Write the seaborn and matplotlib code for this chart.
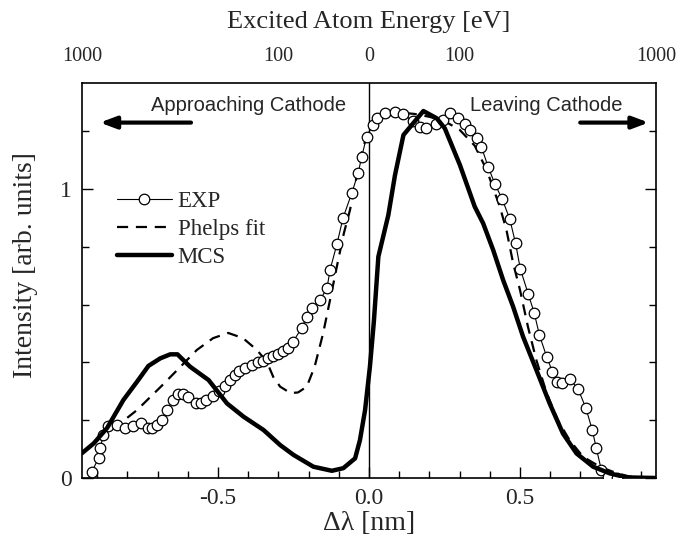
import numpy as np
import pandas as pd
import matplotlib
matplotlib.use("Agg")
import matplotlib.pyplot as plt
import seaborn as sns

# Experimental Doppler profile (open circles)
exp_dl = [-0.917, -0.895, -0.889, -0.880, -0.863, -0.834, -0.807, -0.780, -0.754, -0.730,
          -0.718, -0.702, -0.685, -0.668, -0.649, -0.632, -0.616, -0.598, -0.572, -0.556,
          -0.539, -0.517, -0.497, -0.476, -0.460, -0.443, -0.430, -0.410, -0.388, -0.367,
          -0.350, -0.333, -0.317, -0.300, -0.285, -0.268, -0.251, -0.223, -0.206, -0.190,
          -0.162, -0.139, -0.129, -0.106, -0.086, -0.057, -0.036, -0.024, -0.008, 0.012,
          0.025, 0.053, 0.086, 0.112, 0.146, 0.169, 0.190, 0.221, 0.245, 0.268,
          0.295, 0.317, 0.334, 0.356, 0.372, 0.395, 0.417, 0.441, 0.466, 0.485,
          0.501, 0.527, 0.547, 0.564, 0.588, 0.607, 0.623, 0.640, 0.664, 0.692,
          0.718, 0.739, 0.752, 0.769, 0.790, 0.820]
exp_int = [0.022, 0.070, 0.104, 0.149, 0.180, 0.183, 0.173, 0.180, 0.191, 0.173,
           0.173, 0.183, 0.200, 0.235, 0.270, 0.290, 0.290, 0.280, 0.260, 0.259,
           0.270, 0.285, 0.300, 0.320, 0.340, 0.356, 0.370, 0.380, 0.390, 0.400,
           0.405, 0.415, 0.422, 0.430, 0.440, 0.450, 0.472, 0.519, 0.558, 0.588,
           0.616, 0.657, 0.720, 0.810, 0.900, 0.986, 1.055, 1.112, 1.181, 1.221,
           1.245, 1.263, 1.267, 1.259, 1.235, 1.216, 1.210, 1.225, 1.239, 1.263,
           1.245, 1.225, 1.204, 1.176, 1.146, 1.075, 1.017, 0.965, 0.896, 0.813,
           0.723, 0.637, 0.571, 0.495, 0.420, 0.368, 0.333, 0.330, 0.343, 0.308,
           0.242, 0.166, 0.105, 0.028, 0.005, 0.000]

# Phelps model fit (dashed)
fit_dl = [-0.900, -0.860, -0.826, -0.768, -0.690, -0.625, -0.570, -0.516, -0.466, -0.417,
          -0.371, -0.338, -0.317, -0.294, -0.260, -0.235, -0.206, -0.180, -0.152, -0.129,
          -0.102, -0.083, -0.063, -0.041, -0.020, 0.003, 0.050, 0.100, 0.150, 0.200,
          0.250, 0.300, 0.350, 0.390, 0.433, 0.455, 0.477, 0.500, 0.526, 0.554,
          0.588, 0.625, 0.664, 0.708, 0.764, 0.819, 0.863, 0.950]
fit_int = [0.130, 0.165, 0.187, 0.235, 0.315, 0.384, 0.443, 0.484, 0.502, 0.484,
           0.443, 0.402, 0.350, 0.316, 0.294, 0.296, 0.316, 0.385, 0.500, 0.616,
           0.754, 0.848, 0.927, 1.043, 1.146, 1.204, 1.250, 1.265, 1.260, 1.250,
           1.235, 1.205, 1.150, 1.065, 0.939, 0.858, 0.744, 0.650, 0.524, 0.408,
           0.294, 0.200, 0.131, 0.074, 0.039, 0.017, 0.005, 0.000]

# Monte Carlo simulation (thick solid)
mcs_dl = [-0.950, -0.911, -0.867, -0.813, -0.768, -0.730, -0.691, -0.658, -0.634, -0.592,
          -0.531, -0.470, -0.415, -0.349, -0.294, -0.250, -0.184, -0.123, -0.085, -0.046,
          -0.030, -0.013, 0.003, 0.016, 0.031, 0.064, 0.086, 0.114, 0.180, 0.224,
          0.251, 0.301, 0.350, 0.378, 0.411, 0.444, 0.477, 0.510, 0.554, 0.598,
          0.642, 0.687, 0.742, 0.797, 0.852, 0.950]
mcs_int = [0.086, 0.120, 0.173, 0.270, 0.333, 0.388, 0.414, 0.428, 0.428, 0.385,
           0.339, 0.258, 0.212, 0.166, 0.114, 0.080, 0.039, 0.025, 0.034, 0.068,
           0.131, 0.235, 0.385, 0.540, 0.766, 0.910, 1.048, 1.187, 1.270, 1.245,
           1.210, 1.083, 0.939, 0.881, 0.789, 0.685, 0.593, 0.489, 0.374, 0.258,
           0.154, 0.085, 0.039, 0.016, 0.002, 0.000]

# Energy scale along the top: E = K * (delta lambda)^2, signed by direction
energy_labels = [1000, 100, 0, 100, 1000]
energy_side = [-1, -1, 0, 1, 1]
K_EV_PER_NM2 = 1000 / 0.95 ** 2

sns.set_theme(style="ticks")
plt.rcParams["font.family"] = ["Liberation Serif", "DejaVu Serif"]
plt.rcParams["mathtext.fontset"] = "stix"

fig = plt.figure(figsize=(6.77, 5.46), dpi=100)
ax = fig.add_axes([82 / 677, 68 / 546, 574 / 677, 395 / 546])

exp_df = pd.DataFrame({"dl": exp_dl, "I": exp_int})
fit_df = pd.DataFrame({"dl": fit_dl, "I": fit_int})
mcs_df = pd.DataFrame({"dl": mcs_dl, "I": mcs_int})

sns.lineplot(data=fit_df, x="dl", y="I", ax=ax, sort=False, estimator=None,
             color="black", lw=1.6, label="Phelps fit", zorder=3)
ax.lines[-1].set_dashes([5.0, 3.5])
sns.lineplot(data=exp_df, x="dl", y="I", ax=ax, sort=False, estimator=None,
             color="black", lw=0.8, marker="o", markersize=7.6,
             markerfacecolor="white", markeredgecolor="black", markeredgewidth=0.9,
             label="EXP", zorder=4)
sns.lineplot(data=mcs_df, x="dl", y="I", ax=ax, sort=False, estimator=None,
             color="black", lw=3.2, label="MCS", zorder=5)

ax.axvline(0, color="black", lw=1.0, zorder=2)

ax.set_xlim(-0.95, 0.95)
ax.set_ylim(0, 1.367)
ax.set_xticks([-0.5, 0.0, 0.5])
ax.set_xticklabels(["-0.5", "0.0", "0.5"])
ax.set_xticks(np.arange(-0.9, 0.95, 0.1), minor=True)
ax.set_yticks([0, 1])
ax.set_yticklabels(["0", "1"])
ax.set_yticks([0.2, 0.4, 0.6, 0.8, 1.2], minor=True)
ax.tick_params(which="both", direction="in", top=True, right=True,
               color="black", width=1.0, labelsize=17, pad=7)
ax.tick_params(which="major", length=8)
ax.tick_params(which="minor", length=5)
for s in ax.spines.values():
    s.set_color("black")
    s.set_linewidth(1.2)

ax.set_xlabel("Δλ [nm]", fontsize=20, labelpad=2)
ax.set_ylabel("Intensity [arb. units]", fontsize=20)
ax.yaxis.set_label_coords(-0.077, 0.54)

# Top axis: excited atom energy
top = ax.twiny()
top.set_xlim(ax.get_xlim())
pos = [s * np.sqrt(e / K_EV_PER_NM2) for e, s in zip(energy_labels, energy_side)]
top.set_xticks(pos)
top.set_xticklabels([str(e) for e in energy_labels])
top.tick_params(axis="x", length=0, labelsize=14.5, pad=12)
top.set_xlabel("Excited Atom Energy [eV]", fontsize=19, labelpad=14)
for s in top.spines.values():
    s.set_visible(False)

# Direction annotations
ax.text(-0.72, 1.29, "Approaching Cathode", family="Liberation Sans", fontsize=14.5,
        ha="left", va="center")
ax.text(0.335, 1.29, "Leaving Cathode", family="Liberation Sans", fontsize=14.5,
        ha="left", va="center")
ax.annotate("", xy=(-0.90, 1.23), xytext=(-0.58, 1.23),
            arrowprops=dict(arrowstyle="-|>,head_length=0.8,head_width=0.3",
                            color="black", lw=3))
ax.annotate("", xy=(0.935, 1.23), xytext=(0.69, 1.23),
            arrowprops=dict(arrowstyle="-|>,head_length=0.8,head_width=0.3",
                            color="black", lw=3))

handles, labels = ax.get_legend_handles_labels()
order = [labels.index(n) for n in ["EXP", "Phelps fit", "MCS"]]
ax.legend([handles[i] for i in order], [labels[i] for i in order],
          loc="upper left", bbox_to_anchor=(0.045, 0.75), frameon=False,
          fontsize=16.5, handlelength=2.4, handletextpad=0.25, labelspacing=0.3,
          borderaxespad=0)

fig.savefig("out.png", dpi=100)
